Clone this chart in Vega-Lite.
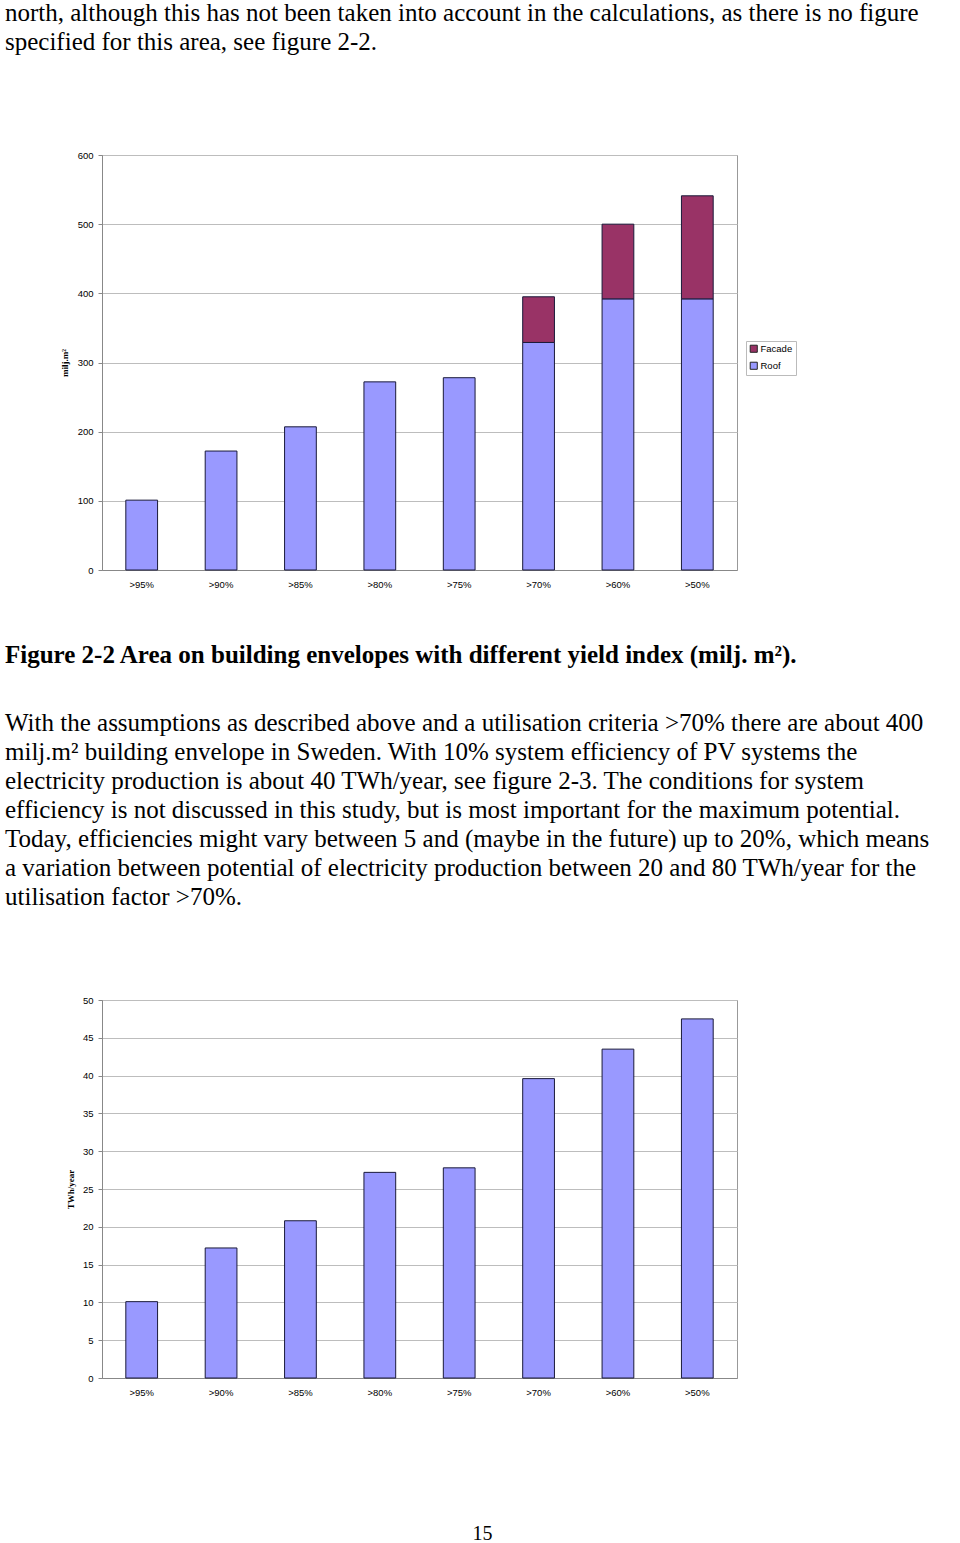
{
  "$schema": "https://vega.github.io/schema/vega-lite/v6.json",
  "padding": {"left": 4, "top": 0, "right": 0, "bottom": 0},
  "background": "white",
  "spacing": 53,
  "title": {"text": "15", "orient": "bottom", "anchor": "middle", "frame": "group", "font": "Liberation Serif", "fontSize": 20, "fontWeight": "normal", "color": "black", "offset": 127, "dx": 63},
  "config": {
    "view": {"stroke": "#999999", "strokeWidth": 1},
    "axis": {"labelFont": "Liberation Sans", "labelColor": "black", "titleFont": "Liberation Serif", "titleColor": "black", "gridColor": "#bdbdbd", "domainColor": "#888888", "tickColor": "#888888"},
    "title": {"font": "Liberation Serif", "color": "black"}
  },
  "vconcat": [
    {
      "width": 635,
      "height": 415,
      "title": {
        "text": ["north, although this has not been taken into account in the calculations, as there is no figure", "specified for this area, see figure 2-2."],
        "anchor": "start", "frame": "group", "dx": -97, "offset": 95,
        "fontSize": 25, "fontWeight": "normal", "lineHeight": 29
      },
      "data": {"values": [
        {"cat": ">95%", "type": "Roof", "value": 101},
        {"cat": ">90%", "type": "Roof", "value": 172},
        {"cat": ">85%", "type": "Roof", "value": 207},
        {"cat": ">80%", "type": "Roof", "value": 272},
        {"cat": ">75%", "type": "Roof", "value": 278},
        {"cat": ">70%", "type": "Roof", "value": 329},
        {"cat": ">60%", "type": "Roof", "value": 392},
        {"cat": ">50%", "type": "Roof", "value": 392},
        {"cat": ">70%", "type": "Facade", "value": 66},
        {"cat": ">60%", "type": "Facade", "value": 108},
        {"cat": ">50%", "type": "Facade", "value": 149}
      ]},
      "mark": {"type": "bar", "stroke": "#1a1a3a", "strokeWidth": 1},
      "encoding": {
        "x": {"field": "cat", "type": "nominal", "sort": [">95%", ">90%", ">85%", ">80%", ">75%", ">70%", ">60%", ">50%"],
          "scale": {"paddingInner": 0.6, "paddingOuter": 0.3},
          "axis": {"title": null, "labelAngle": 0, "labelFontSize": 9.5, "ticks": false, "labelPadding": 9, "domainColor": "#888888"}},
        "y": {"field": "value", "type": "quantitative", "stack": "zero",
          "scale": {"domain": [0, 600]},
          "axis": {"title": "milj.m²", "titleFontSize": 9, "titleFontWeight": "bold", "titlePadding": 8, "values": [0, 100, 200, 300, 400, 500, 600], "labelFontSize": 9.5, "tickSize": 4, "labelPadding": 5}},
        "color": {"field": "type", "type": "nominal",
          "scale": {"domain": ["Facade", "Roof"], "range": ["#993366", "#9999FF"]},
          "legend": {"title": null, "orient": "none", "legendX": 644, "legendY": 186, "symbolType": "square", "symbolSize": 50, "symbolStrokeColor": "#222222", "symbolStrokeWidth": 1, "labelFont": "Liberation Sans", "labelFontSize": 9.5, "labelColor": "black", "strokeColor": "#bbbbbb", "fillColor": "white", "padding": 3, "rowPadding": 5, "labelOffset": 2}},
        "order": {"field": "type", "sort": "descending"}
      }
    },
    {
      "width": 635,
      "height": 378,
      "title": {
        "text": "Figure 2-2 Area on building envelopes with different yield index (milj. m²).",
        "subtitle": ["With the assumptions as described above and a utilisation criteria >70% there are about 400", "milj.m² building envelope in Sweden. With 10% system efficiency of PV systems the", "electricity production is about 40 TWh/year, see figure 2-3. The conditions for system", "efficiency is not discussed in this study, but is most important for the maximum potential.", "Today, efficiencies might vary between 5 and (maybe in the future) up to 20%, which means", "a variation between potential of electricity production between 20 and 80 TWh/year for the", "utilisation factor >70%."],
        "anchor": "start", "frame": "group", "dx": -97, "offset": 85,
        "fontSize": 25, "fontWeight": "bold",
        "subtitleFont": "Liberation Serif", "subtitleFontSize": 25, "subtitleColor": "black", "subtitleLineHeight": 29, "subtitlePadding": 43
      },
      "data": {"values": [
        {"cat": ">95%", "value": 10.1},
        {"cat": ">90%", "value": 17.2},
        {"cat": ">85%", "value": 20.8},
        {"cat": ">80%", "value": 27.2},
        {"cat": ">75%", "value": 27.8},
        {"cat": ">70%", "value": 39.6},
        {"cat": ">60%", "value": 43.5},
        {"cat": ">50%", "value": 47.5}
      ]},
      "mark": {"type": "bar", "stroke": "#1a1a3a", "strokeWidth": 1, "color": "#9999FF"},
      "encoding": {
        "x": {"field": "cat", "type": "nominal", "sort": [">95%", ">90%", ">85%", ">80%", ">75%", ">70%", ">60%", ">50%"],
          "scale": {"paddingInner": 0.6, "paddingOuter": 0.3},
          "axis": {"title": null, "labelAngle": 0, "labelFontSize": 9.5, "ticks": false, "labelPadding": 9}},
        "y": {"field": "value", "type": "quantitative",
          "scale": {"domain": [0, 50]},
          "axis": {"title": "TWh/year", "titleFontSize": 9, "titleFontWeight": "bold", "titlePadding": 7, "values": [0, 5, 10, 15, 20, 25, 30, 35, 40, 45, 50], "labelFontSize": 9.5, "tickSize": 4, "labelPadding": 5}}
      }
    }
  ]
}
